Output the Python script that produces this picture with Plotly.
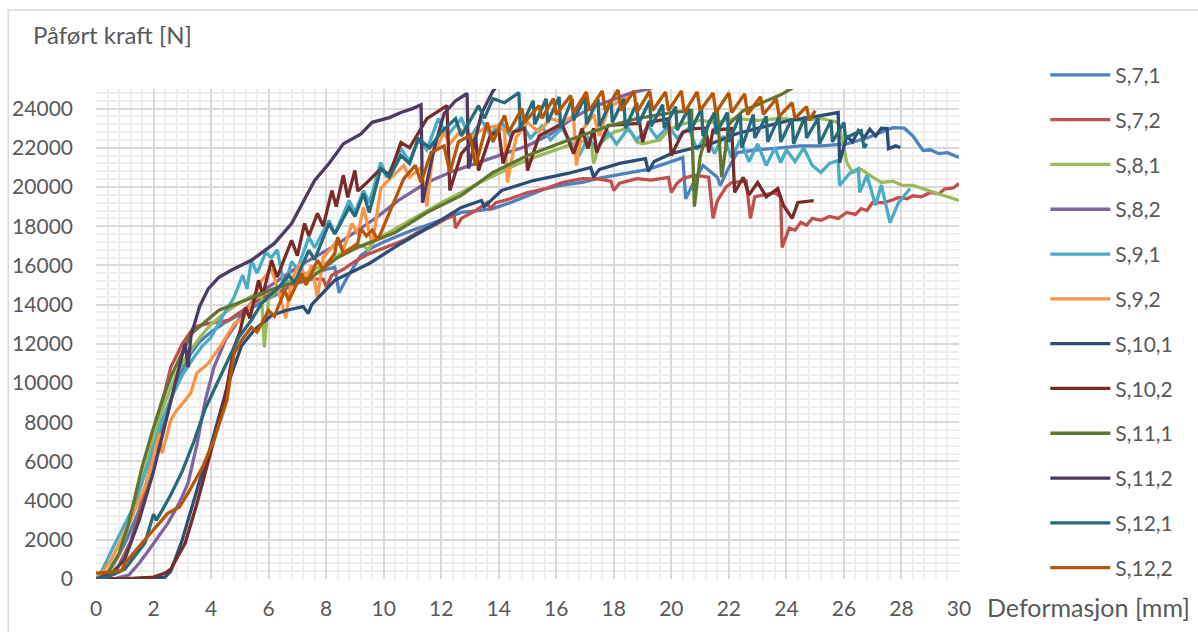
import plotly.graph_objects as go

# Applied force vs. deformation for twelve specimens
names = ["S,7,1", "S,7,2", "S,8,1", "S,8,2", "S,9,1", "S,9,2",
         "S,10,1", "S,10,2", "S,11,1", "S,11,2", "S,12,1", "S,12,2"]
colors = ["#4F81BD", "#C0504D", "#9BBB59", "#8064A2", "#4BACC6", "#F79646",
          "#2C4D75", "#772C2A", "#5F7530", "#4D3B62", "#276A7C", "#B65708"]

s71_x = [0, 0.3, 0.6, 1.0, 1.5, 2.0, 2.4, 2.8, 3.2, 3.6, 4.0, 4.5, 5.0, 5.5, 6.0, 6.5, 7.0, 7.5, 8.0, 8.3,
         8.45, 8.7, 9.2, 9.6, 10.0, 10.5, 11.0, 11.5, 12.0, 12.7, 13.3, 13.8, 14.4, 15.0, 15.6, 16.2, 16.9,
         17.5, 18.0, 18.6, 19.2, 19.8, 20.4, 20.5, 20.8, 21.1, 21.6, 21.7, 22.0, 22.3, 23.0, 23.8, 24.5,
         25.2, 26.1, 26.8, 27.3, 27.7, 28.1, 28.4, 28.75, 29.0, 29.3, 29.6, 30.0]
s71_y = [0, 100, 700, 1800, 3500, 6200, 8300, 10000, 11300, 12100, 12600, 13100, 13500, 13900, 14300, 14700,
         15200, 15500, 15800, 15900, 14600, 15300, 16500, 16900, 17200, 17500, 17800, 18040, 18300, 18700,
         18800, 18900, 19200, 19570, 19900, 20100, 20230, 20450, 20600, 20750, 20900, 21200, 21500, 19400,
         20300, 21100, 20500, 20080, 21000, 21760, 21900, 22000, 22100, 22100, 22200, 22500, 22800, 23030,
         23000, 22600, 21860, 21900, 21700, 21750, 21500]

s72_x = [0, 0.4, 0.8, 1.2, 1.6, 2.0, 2.3, 2.6, 3.0, 3.4, 3.8, 4.2, 4.6, 5.0, 5.5, 6.0, 6.5, 7.0, 7.5, 7.9,
         8.0, 8.2, 8.6, 9.0, 9.5, 10.0, 10.7, 11.2, 11.7, 12.2, 12.45, 12.5, 12.7, 13.2, 13.6, 13.7, 13.9,
         14.4, 15.0, 15.6, 16.2, 16.9, 17.5, 17.9, 18.0, 18.2, 18.8, 19.3, 19.9, 20.0, 20.2, 20.4, 20.8,
         21.3, 21.45, 21.6, 21.9, 22.1, 22.6, 22.75, 22.9, 23.2, 23.6, 23.8, 23.85, 24.1, 24.3, 24.5, 24.7,
         24.9, 25.2, 25.5, 25.8, 26.1, 26.4, 26.6, 26.8, 27.0, 27.4, 27.7, 27.9, 28.2, 28.4, 28.7, 29.0,
         29.3, 29.5, 29.8, 30.0]
s72_y = [0, 100, 700, 1900, 3800, 6500, 9000, 10800, 12000, 12850, 13000, 13100, 13200, 13600, 14100, 14500,
         14800, 15100, 15300, 15300, 14900, 15500, 15800, 16200, 16600, 16900, 17280, 17700, 18000, 18400,
         18550, 17900, 18400, 18800, 19200, 18900, 19200, 19400, 19720, 19900, 20230, 20430, 20400, 20300,
         19820, 20200, 20430, 20350, 20490, 19720, 20200, 20430, 20600, 20500, 18400, 19300, 20000, 20230,
         20300, 18400, 19500, 19600, 19700, 19500, 16920, 17900, 17800, 18200, 18050, 18400, 18300, 18500,
         18400, 18700, 18600, 18900, 18800, 19210, 19200, 19350, 19470, 19400, 19550, 19500, 19720, 19650,
         19900, 19950, 20180]

s81_x = [0, 0.4, 0.8, 1.2, 1.6, 2.0, 2.4, 2.8, 3.2, 3.6, 4.0, 4.5, 5.0, 5.5, 5.75, 5.85, 6.0, 6.5, 7.0, 7.5,
         8.0, 8.5, 9.0, 9.3, 9.45, 9.7, 10.2, 10.8, 11.5, 12.0, 12.7, 13.3, 14.0, 14.7, 15.4, 16.2, 16.8,
         17.2, 17.3, 17.5, 18.0, 18.5, 18.8, 19.0, 19.6, 19.9, 20.3, 21.0, 21.6, 22.2, 23.0, 23.8, 24.5,
         25.2, 25.8, 26.0, 26.1, 26.3, 26.6, 27.0, 27.3, 27.7, 28.0, 28.4, 28.8, 29.2, 29.6, 30.0]
s81_y = [0, 200, 1300, 3000, 5000, 7200, 9000, 10500, 11500, 12300, 13000, 13600, 14100, 14500, 14600, 11820,
         14300, 15000, 15400, 15700, 16100, 16600, 17000, 17000, 16800, 17300, 17700, 18200, 18800, 19200,
         19720, 20200, 20700, 21200, 21600, 22000, 22300, 22400, 21200, 22200, 22800, 23000, 22300, 22200,
         22400, 22900, 23200, 23400, 23300, 23500, 23400, 23500, 23400, 23500, 23300, 21960, 21250, 20740,
         20900, 20500, 20230, 20300, 20100, 20080, 19900, 19720, 19500, 19310]

s82_x = [0, 0.6, 1.14, 1.5, 1.84, 2.2, 2.5, 2.9, 3.2, 3.5, 3.8, 4.1, 4.5, 5.0, 5.4, 5.8, 6.4, 7.1, 7.7, 8.3,
         9.2, 9.8, 10.5, 11.5, 12.4, 13.3, 14.2, 15.0, 15.8, 16.6, 17.3, 18.0, 18.6, 19.2, 19.8]
s82_y = [0, 0, 200, 800, 1480, 2200, 2850, 3900, 4890, 6800, 9120, 10800, 12200, 13300, 14100, 14700, 15300,
         16000, 16500, 17000, 17890, 18500, 19300, 20230, 20800, 21250, 21700, 22100, 22700, 23540, 24100,
         24500, 24800, 25000, 25300]

s91_x = [0, 0.2, 0.55, 0.9, 1.25, 1.55, 1.84, 2.1, 2.3, 2.6, 3.0, 3.4, 3.7, 4.0, 4.4, 4.8, 5.1, 5.25, 5.4,
         5.6, 5.9, 6.1, 6.3, 6.55, 6.8, 7.0, 7.4, 7.6, 8.1, 8.3, 8.8, 9.0, 9.3, 9.5, 9.9, 10.1, 10.6, 10.9,
         11.2, 11.5, 11.9, 12.2, 12.7, 13.0, 13.4, 13.7, 14.1, 14.4, 14.8, 15.1, 15.5, 15.8, 16.2, 16.5,
         16.8, 17.1, 17.4, 17.8, 18.1, 18.5, 18.8, 19.2, 19.5, 19.9, 20.2, 20.6, 20.9, 21.2, 21.5, 21.8,
         22.1, 22.4, 22.7, 23.0, 23.3, 23.6, 23.8, 24.0, 24.3, 24.6, 24.9, 25.2, 25.5, 25.8, 25.85, 26.2,
         26.5, 26.55, 26.8, 27.1, 27.3, 27.6, 27.9, 28.3]
s91_y = [0, 400, 1480, 2500, 3520, 4700, 6060, 7200, 8100, 9200, 10400, 11300, 11900, 12330, 13400, 14370,
         15500, 14800, 16260, 15600, 16660, 16400, 16800, 14880, 16200, 15800, 17430, 16900, 18300, 17600,
         19310, 18700, 19820, 19200, 21250, 20500, 21960, 21300, 22400, 21900, 23490, 22600, 23490, 22500,
         23400, 22700, 23300, 22600, 23200, 22500, 23100, 22400, 23000, 22300, 21600, 22500, 21900, 22800,
         22200, 23000, 22400, 23100, 22500, 23100, 22500, 23000, 21900, 22700, 21700, 22600, 21500, 22400,
         21300, 22200, 21100, 22000, 21250, 21900, 21300, 22000, 21100, 20740, 21200, 21350, 20080, 20700,
         20940, 19720, 20600, 19060, 20100, 18190, 19200, 19920]

s92_x = [0, 0.2, 0.5, 0.8, 1.2, 1.7, 2.0, 2.2, 2.3, 2.6, 2.8, 3.1, 3.3, 3.5, 3.9, 4.3, 4.8, 5.1, 5.4, 5.76,
         6.1, 6.3, 6.6, 6.8, 7.1, 7.3, 7.5, 7.7, 7.9, 8.4, 8.6, 8.9, 9.1, 9.3, 9.45, 9.6, 9.9, 10.2, 10.7,
         10.9, 11.3, 11.5, 11.7, 12.1, 12.3, 12.7, 13.1, 13.5, 13.9, 14.2, 14.3, 14.6, 15.0, 15.4, 15.8,
         16.2, 16.6, 16.7, 16.9, 17.3, 17.5, 17.8, 18.2, 18.6]
s92_y = [0, 300, 900, 1840, 3000, 4690, 6200, 7440, 6420, 8100, 8600, 9120, 9500, 10500, 11000, 11820, 13000,
         13300, 14060, 15240, 15800, 14900, 13300, 15300, 16100, 15240, 16000, 14370, 16400, 17280, 16800,
         18140, 17600, 18960, 18000, 17020, 19920, 20400, 21100, 20500, 21000, 19000, 21600, 22780, 22200,
         22900, 22600, 23000, 23100, 22900, 20230, 22500, 23300, 22800, 23500, 23300, 23600, 21100, 22900,
         23700, 22600, 24000, 24400, 24600]

s101_x = [0, 1.0, 2.0, 2.4, 2.6, 2.8, 3.0, 3.3, 3.6, 3.9, 4.2, 4.6, 5.06, 5.5, 6.1, 6.6, 7.2, 7.38, 7.5,
          8.3, 9.5, 10.6, 11.8, 12.7, 13.4, 13.5, 14.1, 15.2, 16.4, 17.2, 17.3, 17.5, 18.2, 19.1, 19.2,
          19.4, 20.0, 20.7, 21.4, 22.3, 23.4, 24.1, 24.8, 25.3, 25.8, 25.85, 26.1, 26.3, 26.5, 26.7, 26.9,
          27.1, 27.3, 27.5, 27.55, 27.8, 27.96]
s101_y = [0, 0, 50, 100, 400, 1200, 2000, 3500, 5000, 6300, 7900, 10000, 11900, 12700, 13450, 13700, 13900,
          13550, 14000, 15240, 16100, 17120, 18140, 18960, 19310, 19000, 19820, 20330, 20690, 21000, 20500,
          20900, 21200, 21450, 20790, 21300, 21700, 21950, 22220, 22730, 23140, 23400, 23540, 23650, 23800,
          21250, 22600, 22300, 22880, 22500, 22950, 22600, 23000, 22980, 21960, 22100, 22000]

s102_x = [0, 1.0, 2.0, 2.4, 2.6, 2.9, 3.1, 3.5, 4.02, 4.47, 4.8, 5.0, 5.2, 5.35, 5.65, 5.8, 6.1, 6.3, 6.8,
          7.0, 7.25, 7.4, 7.7, 7.9, 8.2, 8.35, 8.6, 8.75, 9.0, 9.1, 9.4, 9.9, 10.2, 10.6, 10.9, 11.5, 12.2,
          12.3, 12.7, 13.2, 13.3, 13.7, 14.0, 14.15, 14.5, 14.9, 15.0, 15.4, 16.2, 16.6, 16.9, 17.1, 17.3,
          17.4, 17.8, 18.5, 18.9, 19.0, 19.2, 19.9, 20.0, 20.4, 20.8, 21.2, 21.3, 21.45, 22.1, 22.2, 22.5,
          22.7, 23.0, 23.3, 23.7, 23.9, 24.2, 24.4, 24.95]
s102_y = [0, 0, 100, 300, 500, 1300, 1835, 3800, 6574, 9122, 11820, 12600, 13860, 13300, 15240, 14500,
          16260, 15400, 17280, 16500, 18140, 17500, 18650, 18000, 19820, 19000, 20600, 19470, 20840, 19800,
          20200, 20940, 20600, 22270, 22000, 23490, 24150, 19820, 21700, 22520, 20840, 22600, 22900, 21200,
          22800, 23000, 20840, 22600, 23240, 21700, 22980, 21960, 23000, 21760, 23140, 23200, 23250, 22300,
          23290, 23490, 21610, 22800, 22980, 23000, 21760, 22900, 22980, 19720, 20500, 19600, 20230, 19500,
          19920, 19060, 18400, 19210, 19310]

s111_x = [0, 0.4, 0.8, 1.14, 1.6, 1.94, 2.3, 2.6, 3.3, 4.27, 5.2, 6.3, 7.5, 8.4, 9.1, 10.4, 11.5, 12.7, 13.8,
          15.0, 16.2, 16.9, 17.8, 18.8, 20.0, 20.7, 20.8, 21.0, 21.3, 21.6, 21.75, 22.0, 22.5, 23.0, 23.8,
          24.5]
s111_y = [0, 300, 1300, 2850, 5700, 7440, 9120, 10300, 12500, 13710, 14220, 14880, 15390, 16400, 16920, 17680,
          18700, 19570, 20740, 21610, 22270, 22620, 23100, 23490, 23800, 23900, 19000, 21500, 23300, 23900,
          20500, 23200, 23900, 24200, 24700, 25300]

s112_x = [0, 0.5, 1.0, 1.5, 2.0, 2.5, 2.9, 3.1, 3.2, 3.3, 3.6, 3.9, 4.27, 4.7, 5.4, 6.2, 6.8, 7.6, 8.1, 8.6,
          9.2, 9.6, 10.2, 10.6, 11.0, 11.3, 11.35, 11.76, 12.1, 12.5, 12.9, 12.95, 13.4, 13.8, 14.1]
s112_y = [0, 200, 1000, 3000, 5500, 8500, 10800, 12030, 10800, 12400, 13900, 14800, 15390, 15750, 16260,
          17120, 18140, 20330, 21200, 22200, 22700, 23300, 23540, 23800, 24000, 24200, 19200, 22000, 23750,
          24400, 24770, 20940, 23750, 24900, 25400]

s121_x = [0, 0.4, 1.0, 1.4, 1.7, 2.0, 2.1, 2.3, 2.6, 3.0, 3.4, 3.8, 4.27, 4.96, 5.4, 5.76, 6.35, 6.7, 6.9,
          7.4, 7.6, 8.1, 8.3, 8.8, 9.0, 9.3, 9.5, 9.9, 10.2, 10.6, 10.9, 11.2, 11.6, 12.0, 12.5, 12.7, 13.3,
          13.5, 13.8, 14.2, 14.7, 14.75, 15.2, 15.25, 15.65, 15.7, 16.1, 16.15, 16.55, 16.6, 17.0, 17.05,
          17.45, 17.5, 17.9, 17.95, 18.35, 18.4, 18.8, 18.85, 19.25, 19.3, 19.7, 19.75, 20.15, 20.2, 20.6,
          20.65, 21.05, 21.1, 21.5, 21.55, 21.95, 22.0, 22.4, 22.45, 22.85, 22.9, 23.3, 23.35, 23.75, 23.8,
          24.2, 24.25, 24.65, 24.7, 25.1, 25.15, 25.55, 25.6, 26.0, 26.05, 26.6, 26.7, 26.8]
s121_y = [0, 100, 500, 1300, 1840, 3300, 3000, 3500, 4300, 5500, 7000, 8700, 10140, 12330, 13200, 14060,
          14880, 15500, 15100, 16770, 16300, 18140, 17600, 18960, 18500, 19670, 18700, 20940, 20500, 21610,
          21200, 22470, 22000, 22800, 23490, 22600, 24150, 23500, 24510, 24300, 24820, 22980, 24400, 23200,
          24500, 23300, 24600, 23000, 24500, 23400, 24600, 23200, 24500, 23100, 24400, 23300, 24500, 23000,
          24300, 23200, 24400, 23100, 24200, 23000, 24100, 22900, 24000, 22800, 24000, 22600, 23800, 22700,
          23800, 22300, 23700, 22000, 23700, 22500, 23600, 22300, 23600, 22300, 23500, 22200, 23600, 22500,
          23500, 22200, 23400, 22300, 23290, 22500, 22880, 22000, 22200]

s122_x = [0, 0.5, 0.9, 1.0, 1.7, 2.5, 2.9, 3.2, 3.7, 4.1, 4.55, 4.8, 5.06, 5.4, 5.6, 6.0, 6.2, 6.56, 6.7,
          7.15, 7.3, 7.7, 7.9, 8.3, 8.4, 8.6, 9.1, 9.2, 9.4, 9.6, 9.8, 10.7, 11.1, 11.3, 11.65, 12.1, 12.3,
          12.6, 13.0, 13.2, 13.6, 13.8, 14.2, 14.35, 14.8, 14.9, 15.4, 15.5, 15.9, 16.0, 16.5, 16.6, 17.05,
          17.15, 17.6, 17.7, 18.15, 18.25, 18.7, 18.8, 19.25, 19.35, 19.8, 19.9, 20.35, 20.45, 20.9, 21.0,
          21.45, 21.55, 22.0, 22.1, 22.55, 22.65, 23.1, 23.2, 23.65, 23.75, 24.2, 24.3, 24.7, 24.8, 25.0]
s122_y = [300, 350, 450, 800, 2000, 3360, 3670, 4380, 5700, 7080, 9120, 11500, 12180, 12840, 12600, 13700,
          13400, 14730, 14200, 15590, 15000, 16260, 15800, 16610, 17430, 16600, 17120, 17890, 17500, 17800,
          17300, 20430, 21100, 20230, 21760, 22100, 20740, 22300, 22620, 21100, 23290, 22300, 23650, 22800,
          24000, 23300, 24150, 23500, 24510, 23700, 24670, 23800, 24850, 23900, 24900, 23900, 24950, 23900,
          24900, 23800, 24900, 23900, 24850, 23900, 24900, 23800, 24850, 23900, 24800, 23800, 24800, 23800,
          24750, 23700, 24600, 23700, 24500, 23600, 24300, 23500, 24100, 23400, 23900]

series_x = [s71_x, s72_x, s81_x, s82_x, s91_x, s92_x, s101_x, s102_x, s111_x, s112_x, s121_x, s122_x]
series_y = [s71_y, s72_y, s81_y, s82_y, s91_y, s92_y, s101_y, s102_y, s111_y, s112_y, s121_y, s122_y]

FONT = "Lato, 'Noto Sans', sans-serif"
GREY = "#595959"

fig = go.Figure()
for name, col, xs, ys in zip(names, colors, series_x, series_y):
    fig.add_trace(go.Scatter(
        x=xs, y=ys, name=name, mode="lines", legendgroup=name,
        line=dict(color=col, width=3.3, shape="linear"),
    ))

axis_common = dict(
    showgrid=True, gridcolor="#D9D9D9", gridwidth=1.5,
    zeroline=False, showline=False, ticks="",
    tickfont=dict(family=FONT, size=21, color=GREY),
)

fig.update_layout(
    width=1198, height=632,
    margin=dict(l=94, r=239, t=89, b=53),
    paper_bgcolor="white", plot_bgcolor="white",
    font=dict(family=FONT, color=GREY),
    xaxis=dict(range=[0, 30], tick0=0, dtick=2, ticklabelstandoff=15,
               minor=dict(dtick=0.4, showgrid=True, gridcolor="#EEEEEE", gridwidth=1.5),
               **axis_common),
    yaxis=dict(range=[0, 25000], tick0=0, dtick=2000, tickformat="d", ticklabelstandoff=22,
               minor=dict(dtick=400, showgrid=True, gridcolor="#EEEEEE", gridwidth=1.5),
               **axis_common),
    legend=dict(x=1.1, xanchor="left", y=1.07, yanchor="top",
                font=dict(family=FONT, size=21, color=GREY),
                tracegroupgap=14.5, itemwidth=60, maxheight=620,
                bgcolor="rgba(0,0,0,0)"),
    showlegend=True,
    annotations=[
        dict(text="Påført kraft [N]", xref="paper", yref="paper", x=-0.075, y=1.112,
             xanchor="left", yanchor="middle", showarrow=False,
             font=dict(family=FONT, size=24, color=GREY)),
        dict(text="Deformasjon [mm]", xref="paper", yref="paper", x=1.030, y=-0.057,
             xanchor="left", yanchor="middle", showarrow=False,
             font=dict(family=FONT, size=25, color=GREY)),
    ],
    shapes=[
        dict(type="rect", xref="paper", yref="paper", x0=-0.1017, y0=-0.2, x1=1.4, y1=1.1612,
             line=dict(color="#D9D9D9", width=1.5), fillcolor="rgba(0,0,0,0)", layer="below"),
    ],
)

fig.write_html("out.html")
